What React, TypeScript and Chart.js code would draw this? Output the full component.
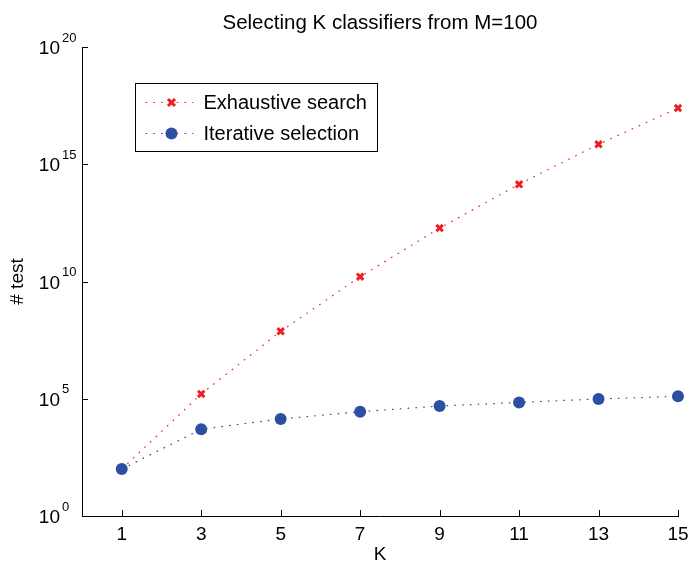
import React, { useEffect, useRef } from "react";
import { Chart, registerables } from "chart.js";

Chart.register(...registerables);

const kValues = [1, 3, 5, 7, 9, 11, 13, 15];
const exhaustiveSearch = [1e2, 1.6e5, 7.5e7, 1.6e10, 1.9e12, 1.4e14, 7.1e15, 2.5e17];
const iterativeSelection = [1e2, 5.0e3, 1.37e4, 2.8e4, 4.9e4, 7.0e4, 9.8e4, 1.27e5];
const yTickExponents = [0, 5, 10, 15, 20];
const seriesLabels = ["Exhaustive search", "Iterative selection"];
const chartTitle = "Selecting K classifiers from M=100";
const xTitle = "K";
const yTitle = "# test";

const FONT = "'Liberation Sans', Arial, Helvetica, sans-serif";
const RED = "rgb(240,28,36)";
const BLUE = "rgb(44,78,163)";
const DASH = [1.6, 6.2];

function drawCross(ctx: CanvasRenderingContext2D, x: number, y: number, r: number) {
  ctx.save();
  ctx.strokeStyle = RED;
  ctx.lineWidth = 3;
  ctx.setLineDash([]);
  ctx.beginPath();
  ctx.moveTo(x - r, y - r);
  ctx.lineTo(x + r, y + r);
  ctx.moveTo(x - r, y + r);
  ctx.lineTo(x + r, y - r);
  ctx.stroke();
  ctx.restore();
}

const overlayPlugin = {
  id: "overlay",
  afterDraw(chart: any) {
    const { ctx, chartArea, scales } = chart;
    const xs = scales.x;
    const ys = scales.y;
    ctx.save();
    // inward tick marks
    ctx.strokeStyle = "#000";
    ctx.lineWidth = 1;
    ctx.setLineDash([]);
    ctx.beginPath();
    kValues.forEach((k) => {
      const px = Math.round(xs.getPixelForValue(k)) + 0.5;
      ctx.moveTo(px, chartArea.bottom);
      ctx.lineTo(px, chartArea.bottom - 6);
    });
    yTickExponents.forEach((e) => {
      const py = Math.round(ys.getPixelForValue(Math.pow(10, e))) + 0.5;
      ctx.moveTo(chartArea.left, py);
      ctx.lineTo(chartArea.left + 6, py);
    });
    ctx.stroke();

    // y tick labels with superscript exponents
    ctx.fillStyle = "#000";
    yTickExponents.forEach((e) => {
      const py = ys.getPixelForValue(Math.pow(10, e));
      ctx.font = `19px ${FONT}`;
      ctx.textAlign = "right";
      ctx.textBaseline = "middle";
      ctx.fillText("10", chartArea.left - 22, py + 2);
      ctx.font = `13px ${FONT}`;
      ctx.textAlign = "left";
      ctx.fillText(String(e), chartArea.left - 20, py - 9);
    });

    // title
    ctx.font = `20.5px ${FONT}`;
    ctx.textAlign = "center";
    ctx.textBaseline = "middle";
    ctx.fillText(chartTitle, (chartArea.left + chartArea.right) / 2, 23);

    // legend
    const lx = 135.5, ly = 83.5, lw = 242, lh = 68;
    ctx.fillStyle = "#fff";
    ctx.fillRect(lx, ly, lw, lh);
    ctx.strokeStyle = "#000";
    ctx.lineWidth = 1;
    ctx.strokeRect(lx, ly, lw, lh);
    const rows = [ly + 19, ly + 50];
    const colors = [RED, BLUE];
    rows.forEach((ry, i) => {
      ctx.strokeStyle = colors[i];
      ctx.lineWidth = 1.2;
      ctx.setLineDash(DASH);
      ctx.beginPath();
      ctx.moveTo(lx + 10, ry);
      ctx.lineTo(lx + 58, ry);
      ctx.stroke();
      ctx.setLineDash([]);
      if (i === 0) {
        drawCross(ctx, lx + 36, ry, 3.5);
      } else {
        ctx.fillStyle = BLUE;
        ctx.beginPath();
        ctx.arc(lx + 36, ry, 6, 0, Math.PI * 2);
        ctx.fill();
      }
      ctx.fillStyle = "#000";
      ctx.font = `20px ${FONT}`;
      ctx.textAlign = "left";
      ctx.textBaseline = "middle";
      ctx.fillText(seriesLabels[i], lx + 68, ry + 1);
    });
    ctx.restore();
  },
};

export default function App() {
  const ref = useRef<HTMLCanvasElement | null>(null);
  useEffect(() => {
    document.body.style.margin = "0";
    const canvas = ref.current;
    if (!canvas) return;
    const chart = new Chart(canvas, {
      type: "line",
      data: {
        datasets: [
          {
            label: seriesLabels[0],
            data: kValues.map((k, i) => ({ x: k, y: exhaustiveSearch[i] })),
            borderColor: RED,
            borderWidth: 1.2,
            borderDash: DASH,
            backgroundColor: RED,
            pointStyle: "crossRot",
            pointRadius: 4.5,
            pointBorderWidth: 3,
            pointBorderColor: RED,
            tension: 0,
            fill: false,
            clip: false,
            order: 1,
          },
          {
            label: seriesLabels[1],
            data: kValues.map((k, i) => ({ x: k, y: iterativeSelection[i] })),
            borderColor: BLUE,
            borderWidth: 1.2,
            borderDash: DASH,
            backgroundColor: BLUE,
            pointStyle: "circle",
            pointRadius: 6,
            pointBorderWidth: 0,
            pointBackgroundColor: BLUE,
            tension: 0,
            fill: false,
            clip: false,
            order: 0,
          },
        ],
      },
      options: {
        responsive: false,
        animation: false,
        events: [],
        layout: { padding: { top: 47, right: 13, left: 0, bottom: 0 } },
        plugins: {
          legend: { display: false },
          title: { display: false },
          tooltip: { enabled: false },
        },
        scales: {
          x: {
            type: "linear",
            min: 0,
            max: 15,
            grid: { display: false, drawTicks: false },
            border: { display: true, color: "#000", width: 1 },
            afterBuildTicks: (s: any) => {
              s.ticks = kValues.map((v) => ({ value: v }));
            },
            afterFit: (s: any) => {
              s.height = 50;
              s.paddingLeft = 0;
              s.paddingRight = 0;
            },
            ticks: {
              color: "#000",
              font: { family: FONT, size: 19 },
              padding: 7,
              maxRotation: 0,
              autoSkip: false,
            },
            title: {
              display: true,
              text: xTitle,
              color: "#000",
              font: { family: FONT, size: 19 },
              padding: { top: 0, bottom: 0 },
            },
          },
          y: {
            type: "logarithmic",
            min: 1,
            max: 1e20,
            grid: { display: false, drawTicks: false },
            border: { display: true, color: "#000", width: 1 },
            afterBuildTicks: (s: any) => {
              s.ticks = yTickExponents.map((e) => ({ value: Math.pow(10, e) }));
            },
            afterFit: (s: any) => {
              s.width = 82;
              s.paddingTop = 0;
              s.paddingBottom = 0;
            },
            ticks: { display: false },
            title: {
              display: true,
              text: yTitle,
              color: "#000",
              font: { family: FONT, size: 19 },
              padding: { top: 6, bottom: 0 },
            },
          },
        },
      },
      plugins: [overlayPlugin],
    } as any);
    return () => chart.destroy();
  }, []);
  return (
    <canvas
      ref={ref}
      width={691}
      height={566}
      style={{ display: "block", width: 691, height: 566 }}
    />
  );
}
